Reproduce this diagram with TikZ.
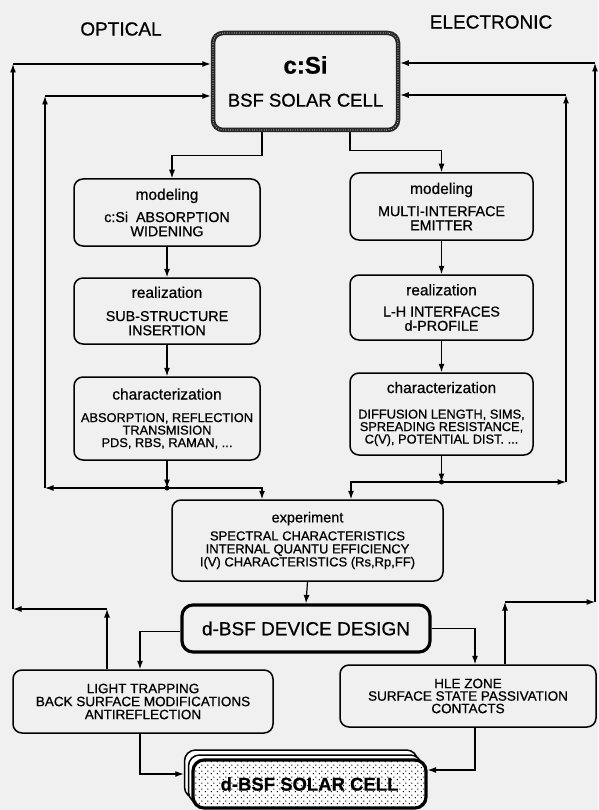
\documentclass[tikz,border=0pt]{standalone}
\usepackage{fontspec}
\setmainfont{Liberation Sans}[FakeBold=0.7]
\usetikzlibrary{arrows.meta}
\usetikzlibrary{patterns}

\lineskiplimit=-100pt
\newcommand{\boxhead}[1]{{\fontsize{15.5}{15}\selectfont #1}}
\newcommand{\bodyA}{\fontsize{14.3}{14.2}\selectfont}
\newcommand{\bodyB}{\fontsize{12.8}{12.5}\selectfont}

\pgfdeclarepatternformonly{celldots}{\pgfqpoint{0pt}{0pt}}{\pgfqpoint{6pt}{6pt}}{\pgfqpoint{6pt}{6pt}}{%
  \pgfpathcircle{\pgfqpoint{1.5pt}{1.5pt}}{0.8pt}%
  \pgfpathcircle{\pgfqpoint{4.5pt}{4.5pt}}{0.8pt}%
  \pgfusepath{fill}}

\tikzset{
  box/.style={draw, line width=1.5pt, rounded corners=9pt, align=center, inner sep=0pt},
  csibox/.style={box, draw=black!85, line width=4.5pt, rounded corners=10pt,
    postaction={draw=black!25, line width=1.2pt, dash pattern=on 0pt off 2.4pt, line cap=round}},
  designbox/.style={box, line width=3.2pt, rounded corners=11pt},
  cellback/.style={box, fill=white, rounded corners=11pt, minimum width=233pt, minimum height=48pt},
  cellbox/.style={box, line width=3.2pt, rounded corners=11pt, preaction={fill=white}, pattern=celldots,
    minimum width=233pt, minimum height=48pt},
  arr/.style={-{Latex[length=8.5pt,width=6pt]}, line width=1.2pt},
  side/.style={font=\fontsize{19}{19}\selectfont},
}

\begin{document}
\begin{tikzpicture}[x=1pt,y=-1pt]
\useasboundingbox[fill=black!6] (0,0) rectangle (598,810);

\node[side] (optical) at (121,29) {OPTICAL};
\node[side] (electronic) at (491,22) {ELECTRONIC};

% starting cell
\node[csibox, minimum width=185pt, minimum height=97pt, font=\fontsize{18.5}{33}\selectfont] (csi) at (305.5,81.5)
  {{\fontsize{24}{24}\selectfont\bfseries c:Si}\\BSF SOLAR CELL};

% optical column
\node[box, minimum width=186pt, minimum height=67pt, font=\bodyA] (modl) at (167,212.5)
  {\boxhead{modeling}\\[8pt]c:Si\ \ ABSORPTION\\WIDENING};
\node[box, minimum width=186pt, minimum height=66pt, font=\bodyA] (reall) at (167,311)
  {\boxhead{realization}\\[9pt]SUB-STRUCTURE\\INSERTION};
\node[box, minimum width=186pt, minimum height=83pt, font=\bodyB] (charl) at (167,418.5)
  {\boxhead{characterization}\\[10pt]ABSORPTION, REFLECTION\\TRANSMISION\\PDS, RBS, RAMAN, ...};

% electronic column
\node[box, minimum width=183pt, minimum height=67pt, font=\bodyA] (modr) at (441.5,206.5)
  {\boxhead{modeling}\\[8pt]MULTI-INTERFACE\\EMITTER};
\node[box, minimum width=183pt, minimum height=65pt, font=\bodyA] (realr) at (441.5,307.5)
  {\boxhead{realization}\\[7pt]L-H INTERFACES\\d-PROFILE};
\node[box, minimum width=183pt, minimum height=82pt, font=\bodyB] (charr) at (441.5,414)
  {\boxhead{characterization}\\[13pt]DIFFUSION LENGTH, SIMS,\\SPREADING RESISTANCE,\\C(V), POTENTIAL DIST. ...};

% experiment and design
\node[box, minimum width=271pt, minimum height=81pt, font=\fontsize{13}{13}\selectfont] (expt) at (307.5,540.5)
  {{\fontsize{14.5}{14}\selectfont experiment}\\[5pt]SPECTRAL CHARACTERISTICS\\INTERNAL QUANTU EFFICIENCY\\I(V) CHARACTERISTICS (Rs,Rp,FF)};
\node[designbox, minimum width=248pt, minimum height=47pt, font=\fontsize{19}{19}\selectfont] (design) at (306,628.5)
  {d-BSF DEVICE DESIGN};

\node[box, minimum width=260pt, minimum height=63pt, font=\fontsize{13.5}{13}\selectfont] (light) at (143,701.5)
  {LIGHT TRAPPING\\BACK SURFACE MODIFICATIONS\\ANTIREFLECTION};
\node[box, minimum width=256pt, minimum height=62pt, font=\fontsize{13.5}{12.5}\selectfont] (hle) at (468,696)
  {HLE ZONE\\SURFACE STATE PASSIVATION\\CONTACTS};

% final cell (stacked)
\node[cellback] (cellb) at (301,774) {};
\node[cellback] (cellm) at (305,779) {};
\node[cellbox, font=\fontsize{18.5}{18.5}\selectfont\bfseries] (cell) at (309.5,784) {d-BSF SOLAR CELL};

% corners of the feedback loops
\coordinate (oj) at (167,488);
\coordinate (oi1) at (45,488);
\coordinate (oi2) at (45,96);
\coordinate (ej) at (441.5,482);
\coordinate (ei1) at (566,482);
\coordinate (ei2) at (566,95);
\coordinate (oo1) at (107,609);
\coordinate (oo2) at (13,609);
\coordinate (oo3) at (13,64);
\coordinate (eo1) at (505,602);
\coordinate (eo2) at (595,602);
\coordinate (eo3) at (595,63);

% down the columns
\draw[arr] ([xshift=-43.5pt]csi.south) -- ++(0,23) -| ([xshift=5pt]modl.north);
\draw[arr] ([xshift=44.5pt]csi.south) -- ++(0,18) -| (modr.north);
\draw[arr] (modl.south) -- (reall.north);
\draw[arr] (reall.south) -- (charl.north);
\draw[arr] (modr.south) -- (realr.north);
\draw[arr] (realr.south) -- (charr.north);
\draw[arr] (charl.south) -- (oj);
\draw[arr] (charr.south) -- (ej);
\fill (oj) circle (2.5pt);
\fill (ej) circle (2.5pt);

% inner loops
\draw[arr] (oj) -- (oi1);
\draw[arr] (oi1) -- (oi2);
\draw[arr] (oi2) -- (oi2 -| csi.west);
\draw[arr] (oj) -| ([xshift=-45.5pt]expt.north);
\draw[arr] (ej) -- (ei1);
\draw[arr] (ei1) -- (ei2);
\draw[arr] (ei2) -- (ei2 -| csi.east);
\draw[arr] (ej) -| ([xshift=43.5pt]expt.north);

% design stage
\draw[arr] (expt.south) -- (design.north);
\draw[arr] ([yshift=-3pt]design.west) -| ([xshift=-3pt]light.north);
\draw[arr] (design.east) -| ([xshift=7pt]hle.north);

% outer loops
\draw[arr] ([xshift=-36pt]light.north) -- (oo1);
\draw[arr] (oo1) -- (oo2);
\draw[arr] (oo2) -- (oo3);
\draw[arr] (oo3) -- (oo3 -| csi.west);
\draw[arr] ([xshift=37pt]hle.north) -- (eo1);
\draw[arr] (eo1) -- (eo2);
\draw[arr] (eo2) -- (eo3);
\draw[arr] (eo3) -- (eo3 -| csi.east);

% to the final cell
\draw[arr] ([xshift=-3pt]light.south) |- (cellb.west);
\draw[arr] ([xshift=7pt]hle.south) |- ([yshift=14pt]cell.east);

\end{tikzpicture}
\end{document}
